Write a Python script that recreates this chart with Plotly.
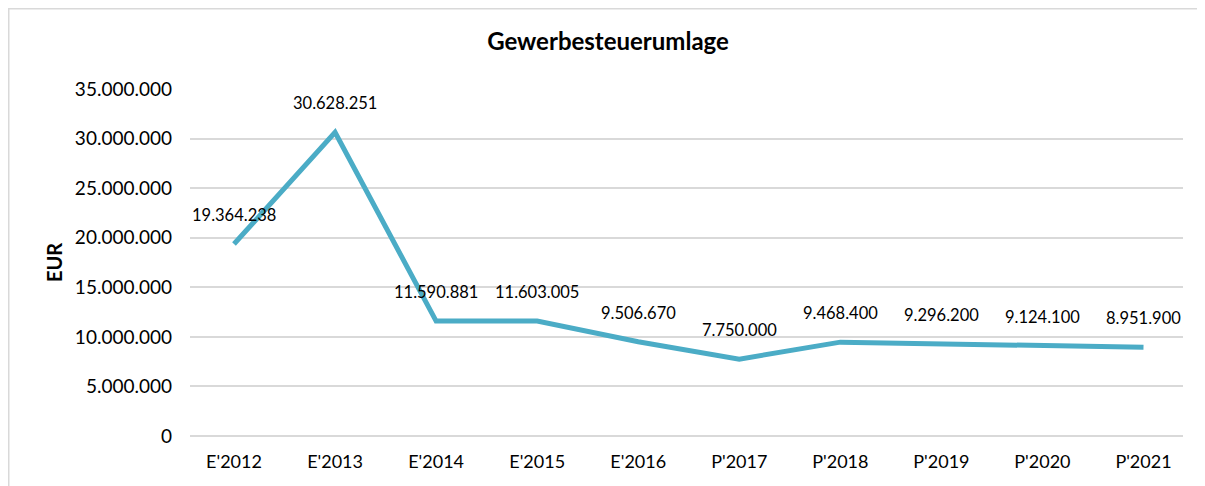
import plotly.graph_objects as go

categories = ["E'2012", "E'2013", "E'2014", "E'2015", "E'2016", "P'2017", "P'2018", "P'2019", "P'2020", "P'2021"]
values = [19364238, 30628251, 11590881, 11603005, 9506670, 7750000, 9468400, 9296200, 9124100, 8951900]
tick_vals = [0, 5000000, 10000000, 15000000, 20000000, 25000000, 30000000, 35000000]

FONT = "Lato, 'Noto Sans', sans-serif"

def fmt(v):
    return f"{v:,}".replace(",", ".")

W, H = 1197, 478
L, R, T, B = 182, 22, 81, 50
PW, PH = W - L - R, H - T - B

fig = go.Figure()
fig.add_trace(go.Scatter(
    x=categories, y=values, mode="lines",
    line=dict(color="#4BACC6", width=5),
    hoverinfo="skip", showlegend=False,
))

for c, v in zip(categories, values):
    fig.add_annotation(x=c, y=v, text=fmt(v), showarrow=False, yshift=29,
                       font=dict(family=FONT, size=16.5, color="#000000"))

fig.update_layout(
    width=W, height=H,
    margin=dict(l=L, r=R, t=T, b=B, autoexpand=False),
    paper_bgcolor="white", plot_bgcolor="white",
    separators=",.",
    title=dict(text="<b>Gewerbesteuerumlage</b>", x=(608 - 8) / W, xanchor="center",
               y=1 - 34 / H, yanchor="middle",
               font=dict(family=FONT, size=24, color="#000000")),
    font=dict(family=FONT, color="#000000"),
    xaxis=dict(
        type="category", showgrid=False, zeroline=False, showline=False, ticks="",
        automargin=False, ticklabelstandoff=13,
        tickfont=dict(family=FONT, size=18, color="#000000"),
    ),
    yaxis=dict(
        range=[0, 35000000], tickvals=tick_vals, ticktext=[fmt(t) for t in tick_vals],
        showgrid=True, gridcolor="#D9D9D9", gridwidth=1.5,
        zeroline=True, zerolinecolor="#D9D9D9", zerolinewidth=1.5, showline=False,
        automargin=False, ticklabelstandoff=17,
        ticks="", ticklen=0, tickfont=dict(family=FONT, size=19, color="#000000"),
        title=dict(text="<b>EUR</b>", font=dict(family=FONT, size=20, color="#000000"), standoff=6),
    ),
    shapes=[dict(type="rect", xref="paper", yref="paper",
                 x0=(0.75 - L) / PW, x1=(W - 2 - L) / PW,
                 y0=-(B + 20) / PH, y1=(PH + T - 0.75) / PH,
                 line=dict(color="#D9D9D9", width=1.5), fillcolor="rgba(0,0,0,0)", layer="below")],
)

fig.write_html("out.html")
